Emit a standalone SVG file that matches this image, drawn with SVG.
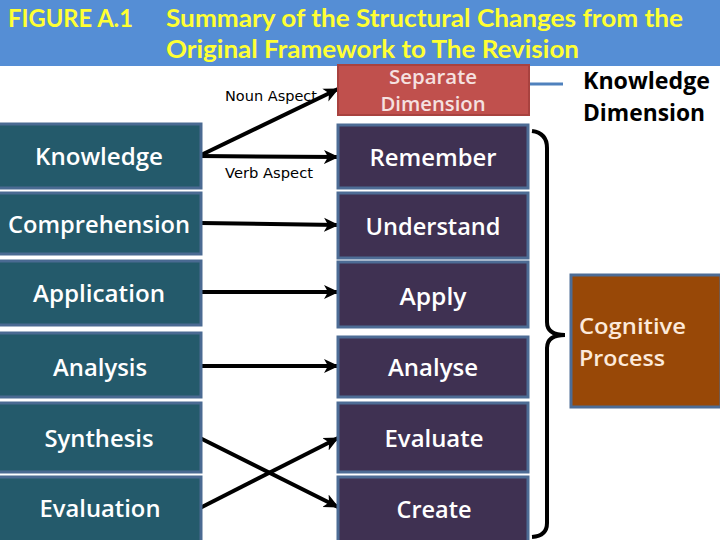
<svg xmlns="http://www.w3.org/2000/svg" width="720" height="540" viewBox="0 0 720 540">
<style>
.lbox{fill:#245a6b;stroke:#4a6a92;stroke-width:3}
.rbox{fill:#3f3152;stroke:#4d6c95;stroke-width:3}
.nt{font-family:"Open Sans","DejaVu Sans",sans-serif;font-weight:600;font-size:23px;fill:#ffffff;text-anchor:middle}
.ttl{font-family:Lato,"Liberation Sans",sans-serif;font-weight:bold;font-size:24px;fill:#ffff33}
.lab{font-family:"DejaVu Sans",sans-serif;font-size:14px;fill:#000}
.kd{font-family:"Open Sans","DejaVu Sans",sans-serif;font-weight:bold;font-size:24px;fill:#000}
.sd{font-family:"Open Sans","DejaVu Sans",sans-serif;font-weight:600;font-size:20px;fill:#f5e1e0;text-anchor:middle}
.cp{font-family:"Open Sans","DejaVu Sans",sans-serif;font-weight:600;font-size:22px;fill:#fdeada}
.arr{stroke:#000;stroke-width:4;fill:none;marker-end:url(#ah)}
</style>
<defs>
<marker id="ah" markerUnits="userSpaceOnUse" markerWidth="16" markerHeight="16" refX="14" refY="8" orient="auto">
<path d="M0,1 L15,8 L0,15 L4,8 Z" fill="#000"/>
</marker>
</defs>
<rect width="720" height="540" fill="#ffffff"/>
<g id="header">
<rect x="0" y="0" width="720" height="66" fill="#558ed5"/>
<text class="ttl" x="8" y="27" textLength="125" lengthAdjust="spacingAndGlyphs">FIGURE A.1</text>
<text class="ttl" x="166" y="27" textLength="517" lengthAdjust="spacingAndGlyphs">Summary of the Structural Changes from the</text>
<text class="ttl" x="166" y="58" textLength="413" lengthAdjust="spacingAndGlyphs">Original Framework to The Revision</text>
</g>
<g id="connectors">
<path class="arr" d="M199,156 L338,89"/>
<path class="arr" d="M199,156 L338,157"/>
<path class="arr" d="M201,223 L338,225"/>
<path class="arr" d="M201,292 L338,292"/>
<path class="arr" d="M201,366 L338,366"/>
<path class="arr" d="M200,438 L338,507"/>
<path class="arr" d="M200,508 L338,438"/>
<path d="M530,84 L563,84" stroke="#4f81bd" stroke-width="3"/>
<path d="M532,131 Q547,133 547,148 L547,322 Q547,335 565,335 Q547,335 547,348 L547,523 Q547,536 532,537" stroke="#000" stroke-width="4" fill="none"/>
</g>
<g id="label-noun"><text class="lab" x="225" y="101" textLength="92" lengthAdjust="spacingAndGlyphs">Noun Aspect</text></g>
<g id="label-verb"><text class="lab" x="225" y="178" textLength="88" lengthAdjust="spacingAndGlyphs">Verb Aspect</text></g>
<g id="n-knowledge"><rect class="lbox" x="-2" y="124" width="203" height="64"/><text class="nt" x="99" y="165" textLength="128" lengthAdjust="spacingAndGlyphs">Knowledge</text></g>
<g id="n-comprehension"><rect class="lbox" x="-2" y="193" width="203" height="61"/><text class="nt" x="99" y="233" textLength="182" lengthAdjust="spacingAndGlyphs">Comprehension</text></g>
<g id="n-application"><rect class="lbox" x="-2" y="261" width="203" height="64"/><text class="nt" x="99" y="302" textLength="132" lengthAdjust="spacingAndGlyphs">Application</text></g>
<g id="n-analysis"><rect class="lbox" x="-2" y="333" width="203" height="64"/><text class="nt" x="100" y="376" textLength="94" lengthAdjust="spacingAndGlyphs">Analysis</text></g>
<g id="n-synthesis"><rect class="lbox" x="-2" y="403" width="203" height="69"/><text class="nt" x="99" y="447" textLength="109" lengthAdjust="spacingAndGlyphs">Synthesis</text></g>
<g id="n-evaluation"><rect class="lbox" x="-2" y="477" width="203" height="66"/><text class="nt" x="100" y="517" textLength="121" lengthAdjust="spacingAndGlyphs">Evaluation</text></g>
<g id="n-separate"><rect x="338" y="65" width="191" height="50" fill="#c0504d" stroke="#a8423f" stroke-width="2"/>
<text class="sd" x="433" y="84" textLength="88" lengthAdjust="spacingAndGlyphs">Separate</text>
<text class="sd" x="433" y="111" textLength="105" lengthAdjust="spacingAndGlyphs">Dimension</text></g>
<g id="n-remember"><rect class="rbox" x="338" y="125" width="190" height="63"/><text class="nt" x="433" y="166" textLength="127" lengthAdjust="spacingAndGlyphs">Remember</text></g>
<g id="n-understand"><rect class="rbox" x="338" y="193" width="190" height="65"/><text class="nt" x="433" y="235" textLength="135" lengthAdjust="spacingAndGlyphs">Understand</text></g>
<g id="n-apply"><rect class="rbox" x="338" y="262" width="190" height="65"/><text class="nt" x="433" y="305" textLength="67" lengthAdjust="spacingAndGlyphs">Apply</text></g>
<g id="n-analyse"><rect class="rbox" x="338" y="337" width="190" height="60"/><text class="nt" x="433" y="376" textLength="90" lengthAdjust="spacingAndGlyphs">Analyse</text></g>
<g id="n-evaluate"><rect class="rbox" x="338" y="403" width="190" height="69"/><text class="nt" x="434" y="447" textLength="99" lengthAdjust="spacingAndGlyphs">Evaluate</text></g>
<g id="n-create"><rect class="rbox" x="338" y="477" width="190" height="66"/><text class="nt" x="434" y="518" textLength="75" lengthAdjust="spacingAndGlyphs">Create</text></g>
<g id="n-knowledge-dimension"><text class="kd" x="583" y="89" textLength="127" lengthAdjust="spacingAndGlyphs">Knowledge</text><text class="kd" x="583" y="121" textLength="122" lengthAdjust="spacingAndGlyphs">Dimension</text></g>
<g id="n-cognitive"><rect x="571" y="275" width="150" height="132" fill="#984807" stroke="#4d6c95" stroke-width="3"/>
<text class="cp" x="579" y="334" textLength="107" lengthAdjust="spacingAndGlyphs">Cognitive</text>
<text class="cp" x="579" y="366" textLength="86" lengthAdjust="spacingAndGlyphs">Process</text></g>
</svg>
